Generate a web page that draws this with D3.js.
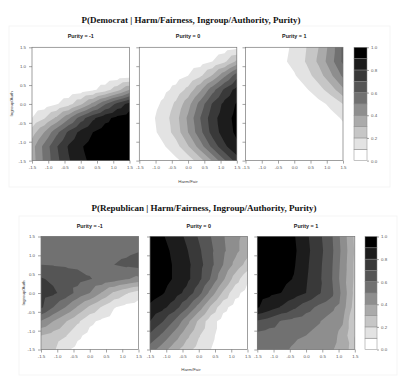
<!DOCTYPE html>
<html>
<head>
<meta charset="utf-8">
<script src="https://cdn.jsdelivr.net/npm/d3@7"></script>
<style>
  body { margin: 0; background: #fff; }
  svg { display: block; font-family: "Liberation Sans", Arial, sans-serif; }
</style>
</head>
<body>
<svg width="400" height="376"></svg>
<script>
// grid positions (Harm/Fair across, Ingroup/Auth down from the top)
const harm = [-1.5, -1.125, -0.75, -0.375, 0, 0.375, 0.75, 1.125, 1.5];
const ingroup = [1.5, 1.125, 0.75, 0.375, 0, -0.375, -0.75, -1.125, -1.5];

const thresholds = [0.1, 0.2, 0.3, 0.4, 0.5, 0.6, 0.7, 0.8, 0.9];
const greys = ["#ffffff", "#e3e3e3", "#c6c6c6", "#aaaaaa", "#8e8e8e",
               "#717171", "#555555", "#393939", "#1c1c1c", "#000000"];
const axisTicks = [-1.5, -1, -0.5, 0, 0.5, 1, 1.5];
const barTicks = [0, 0.2, 0.4, 0.6, 0.8, 1];
const purityLabels = ["Purity = -1", "Purity = 0", "Purity = 1"];

// P(Democrat | ...), rows = ingroup values, cols = harm values
const demPurityNeg = [
  [0.00, 0.00, 0.00, 0.00, 0.00, 0.00, 0.00, 0.00, 0.00],
  [0.00, 0.00, 0.00, 0.00, 0.00, 0.00, 0.00, 0.00, 0.00],
  [0.00, 0.00, 0.00, 0.00, 0.00, 0.01, 0.01, 0.03, 0.05],
  [0.00, 0.01, 0.01, 0.02, 0.04, 0.08, 0.15, 0.26, 0.40],
  [0.02, 0.04, 0.09, 0.16, 0.28, 0.43, 0.59, 0.73, 0.84],
  [0.10, 0.19, 0.32, 0.48, 0.65, 0.78, 0.87, 0.93, 0.96],
  [0.25, 0.40, 0.57, 0.72, 0.83, 0.90, 0.95, 0.97, 0.98],
  [0.36, 0.53, 0.69, 0.81, 0.89, 0.94, 0.96, 0.98, 0.99],
  [0.35, 0.52, 0.67, 0.79, 0.87, 0.93, 0.96, 0.97, 0.99]
];
const demPurityZero = [
  [0.00, 0.00, 0.00, 0.00, 0.00, 0.01, 0.02, 0.04, 0.07],
  [0.00, 0.00, 0.01, 0.01, 0.03, 0.05, 0.10, 0.18, 0.32],
  [0.01, 0.01, 0.03, 0.05, 0.10, 0.18, 0.31, 0.48, 0.66],
  [0.02, 0.03, 0.07, 0.13, 0.23, 0.38, 0.56, 0.72, 0.84],
  [0.03, 0.06, 0.12, 0.22, 0.36, 0.54, 0.71, 0.83, 0.91],
  [0.04, 0.08, 0.15, 0.26, 0.42, 0.60, 0.76, 0.86, 0.93],
  [0.04, 0.07, 0.14, 0.24, 0.40, 0.57, 0.74, 0.85, 0.92],
  [0.02, 0.04, 0.09, 0.16, 0.29, 0.45, 0.63, 0.78, 0.88],
  [0.01, 0.02, 0.04, 0.08, 0.14, 0.26, 0.41, 0.59, 0.75]
];
const demPurityPos = [
  [0.01, 0.02, 0.04, 0.07, 0.12, 0.20, 0.30, 0.44, 0.62],
  [0.01, 0.03, 0.04, 0.08, 0.13, 0.21, 0.32, 0.46, 0.62],
  [0.01, 0.02, 0.03, 0.06, 0.09, 0.16, 0.25, 0.38, 0.52],
  [0.01, 0.01, 0.02, 0.03, 0.06, 0.09, 0.16, 0.25, 0.38],
  [0.00, 0.00, 0.01, 0.01, 0.02, 0.04, 0.07, 0.12, 0.20],
  [0.00, 0.00, 0.00, 0.01, 0.01, 0.02, 0.04, 0.07, 0.11],
  [0.00, 0.00, 0.00, 0.00, 0.01, 0.01, 0.02, 0.04, 0.07],
  [0.00, 0.00, 0.00, 0.00, 0.00, 0.01, 0.01, 0.02, 0.04],
  [0.00, 0.00, 0.00, 0.00, 0.00, 0.00, 0.01, 0.01, 0.02]
];

// P(Republican | ...)
const repPurityNeg = [
  [0.56, 0.56, 0.55, 0.55, 0.55, 0.55, 0.55, 0.56, 0.57],
  [0.58, 0.57, 0.57, 0.56, 0.56, 0.56, 0.57, 0.58, 0.595],
  [0.60, 0.595, 0.59, 0.585, 0.58, 0.575, 0.60, 0.62, 0.64],
  [0.71, 0.68, 0.65, 0.63, 0.605, 0.58, 0.55, 0.51, 0.47],
  [0.75, 0.72, 0.66, 0.57, 0.50, 0.39, 0.28, 0.21, 0.15],
  [0.72, 0.60, 0.50, 0.39, 0.28, 0.19, 0.105, 0.07, 0.05],
  [0.49, 0.40, 0.31, 0.22, 0.12, 0.08, 0.05, 0.035, 0.025],
  [0.30, 0.26, 0.21, 0.12, 0.07, 0.045, 0.03, 0.02, 0.015],
  [0.28, 0.22, 0.12, 0.07, 0.04, 0.025, 0.02, 0.015, 0.01]
];
const repPurityZero = [
  [0.95, 0.91, 0.86, 0.78, 0.69, 0.60, 0.51, 0.43, 0.36],
  [0.96, 0.93, 0.88, 0.81, 0.72, 0.62, 0.52, 0.43, 0.34],
  [0.97, 0.94, 0.89, 0.83, 0.74, 0.63, 0.50, 0.37, 0.26],
  [0.97, 0.94, 0.89, 0.83, 0.73, 0.59, 0.42, 0.25, 0.12],
  [0.95, 0.91, 0.85, 0.77, 0.64, 0.46, 0.28, 0.13, 0.06],
  [0.88, 0.83, 0.75, 0.62, 0.46, 0.28, 0.13, 0.06, 0.03],
  [0.80, 0.71, 0.59, 0.44, 0.28, 0.14, 0.06, 0.03, 0.02],
  [0.68, 0.58, 0.46, 0.33, 0.21, 0.12, 0.06, 0.03, 0.02],
  [0.55, 0.45, 0.34, 0.24, 0.16, 0.10, 0.05, 0.03, 0.02]
];
const repPurityPos = [
  [0.97, 0.96, 0.94, 0.91, 0.82, 0.73, 0.63, 0.46, 0.28],
  [0.97, 0.96, 0.94, 0.92, 0.83, 0.74, 0.64, 0.47, 0.29],
  [0.97, 0.96, 0.94, 0.91, 0.82, 0.73, 0.63, 0.46, 0.28],
  [0.96, 0.95, 0.93, 0.895, 0.81, 0.725, 0.625, 0.45, 0.28],
  [0.94, 0.92, 0.898, 0.85, 0.80, 0.715, 0.64, 0.47, 0.27],
  [0.91, 0.85, 0.79, 0.72, 0.645, 0.58, 0.53, 0.45, 0.25],
  [0.69, 0.65, 0.59, 0.565, 0.54, 0.51, 0.46, 0.41, 0.19],
  [0.57, 0.55, 0.535, 0.515, 0.50, 0.47, 0.44, 0.37, 0.19],
  [0.56, 0.54, 0.515, 0.49, 0.465, 0.44, 0.415, 0.36, 0.24]
];

const svg = d3.select("svg");
svg.append("rect").attr("width", 400).attr("height", 376).attr("fill", "#fff");

const fmt = (d) => d.toFixed(1);

// keep the part of a triangle where the (linearly varying) value is >= t
function clip(poly, t) {
  const out = [];
  for (let i = 0; i < poly.length; i++) {
    const a = poly[i], b = poly[(i + 1) % poly.length];
    const ina = a[2] >= t, inb = b[2] >= t;
    if (ina) out.push(a);
    if (ina !== inb) {
      const s = (t - a[2]) / (b[2] - a[2]);
      out.push([a[0] + s * (b[0] - a[0]), a[1] + s * (b[1] - a[1]), t]);
    }
  }
  return out;
}

function bandPaths(grid, x, y) {
  const paths = thresholds.map(() => []);
  const pt = (r, c) => [x(harm[c]), y(ingroup[r]), grid[r][c]];
  for (let r = 0; r < ingroup.length - 1; r++) {
    for (let c = 0; c < harm.length - 1; c++) {
      const tris = [
        [pt(r, c), pt(r, c + 1), pt(r + 1, c + 1)],
        [pt(r, c), pt(r + 1, c + 1), pt(r + 1, c)]
      ];
      tris.forEach((tri) => {
        thresholds.forEach((t, k) => {
          const p = clip(tri, t);
          if (p.length > 2) {
            paths[k].push("M" + p.map((q) => q[0].toFixed(2) + "," + q[1].toFixed(2)).join("L") + "Z");
          }
        });
      });
    }
  }
  return paths.map((a) => a.join(""));
}

function styleAxis(g) {
  g.select(".domain").remove();
  g.selectAll(".tick line").attr("stroke", "#666").attr("stroke-width", 0.6);
  g.selectAll(".tick text").attr("fill", "#555").style("font-size", "4.4px");
}

function drawPanel(grid, left, top, w, h, title, showY) {
  const x = d3.scaleLinear().domain([-1.5, 1.5]).range([left, left + w]);
  const y = d3.scaleLinear().domain([-1.5, 1.5]).range([top + h, top]);
  const g = svg.append("g");

  g.append("rect").attr("x", left).attr("y", top).attr("width", w).attr("height", h)
    .attr("fill", greys[0]);
  bandPaths(grid, x, y).forEach((d, k) => {
    g.append("path").attr("d", d).attr("fill", greys[k + 1]);
  });
  g.append("rect").attr("x", left).attr("y", top).attr("width", w).attr("height", h)
    .attr("fill", "none").attr("stroke", "#777").attr("stroke-width", 0.7);

  g.append("g").attr("transform", `translate(0,${top + h})`)
    .call(d3.axisBottom(x).tickValues(axisTicks).tickFormat(fmt).tickSize(3).tickPadding(2.5))
    .call(styleAxis);
  g.append("g").attr("transform", `translate(${left},0)`)
    .call(d3.axisLeft(y).tickValues(axisTicks).tickFormat(showY ? fmt : () => "").tickSize(3).tickPadding(3))
    .call(styleAxis);

  g.append("text").attr("x", left + w / 2).attr("y", top - 9)
    .attr("text-anchor", "middle").attr("font-weight", "bold")
    .style("font-size", "5.4px").attr("fill", "#222").text(title);
}

function drawColorbar(left, top, w, h) {
  const y = d3.scaleLinear().domain([0, 1]).range([top + h, top]);
  const g = svg.append("g");
  g.selectAll("rect").data(greys).join("rect")
    .attr("x", left).attr("width", w)
    .attr("y", (d, i) => y((i + 1) / 10))
    .attr("height", (d, i) => y(i / 10) - y((i + 1) / 10))
    .attr("fill", (d) => d).attr("stroke", "#888").attr("stroke-width", 0.5);
  g.append("g").attr("transform", `translate(${left + w},0)`)
    .call(d3.axisRight(y).tickValues(barTicks).tickFormat(fmt).tickSize(2).tickPadding(2))
    .call(styleAxis);
}

function drawFigure(title, titleX, titleY, grids, lefts, top, w, h, bar, yLabelX, xLabel) {
  svg.append("text").attr("x", titleX).attr("y", titleY).attr("text-anchor", "middle")
    .attr("font-family", "'Liberation Serif', 'Times New Roman', serif")
    .attr("font-weight", "bold").style("font-size", "9px").attr("fill", "#111").text(title);
  grids.forEach((grid, i) => drawPanel(grid, lefts[i], top, w, h, purityLabels[i], i === 0));
  drawColorbar(bar[0], top, bar[1], h);
  svg.append("text").attr("transform", `translate(${yLabelX},${top + h / 2}) rotate(-90)`)
    .attr("text-anchor", "middle").style("font-size", "4.4px").attr("fill", "#444")
    .text("Ingroup/Auth");
  svg.append("text").attr("x", xLabel[0]).attr("y", xLabel[1]).attr("text-anchor", "middle")
    .style("font-size", "4.4px").attr("fill", "#444").text("Harm/Fair");
}

// faint frames around the two figures
svg.append("rect").attr("x", 9).attr("y", 26).attr("width", 381).attr("height", 161)
  .attr("fill", "none").attr("stroke", "#f2f2f2").attr("stroke-width", 0.8);
svg.append("rect").attr("x", 19).attr("y", 216).attr("width", 378).attr("height", 159)
  .attr("fill", "none").attr("stroke", "#f2f2f2").attr("stroke-width", 0.8);

drawFigure("P(Democrat | Harm/Fairness, Ingroup/Authority, Purity)", 191, 22.5,
  [demPurityNeg, demPurityZero, demPurityPos], [32, 139.3, 245.5], 47.3, 97.5, 113.3,
  [354, 13], 13, [188, 183]);

drawFigure("P(Republican | Harm/Fairness, Ingroup/Authority, Purity)", 204, 210.5,
  [repPurityNeg, repPurityZero, repPurityPos], [41, 150, 257.3], 236.5, 97.5, 113,
  [365, 12], 25, [191, 371]);
</script>
</body>
</html>
